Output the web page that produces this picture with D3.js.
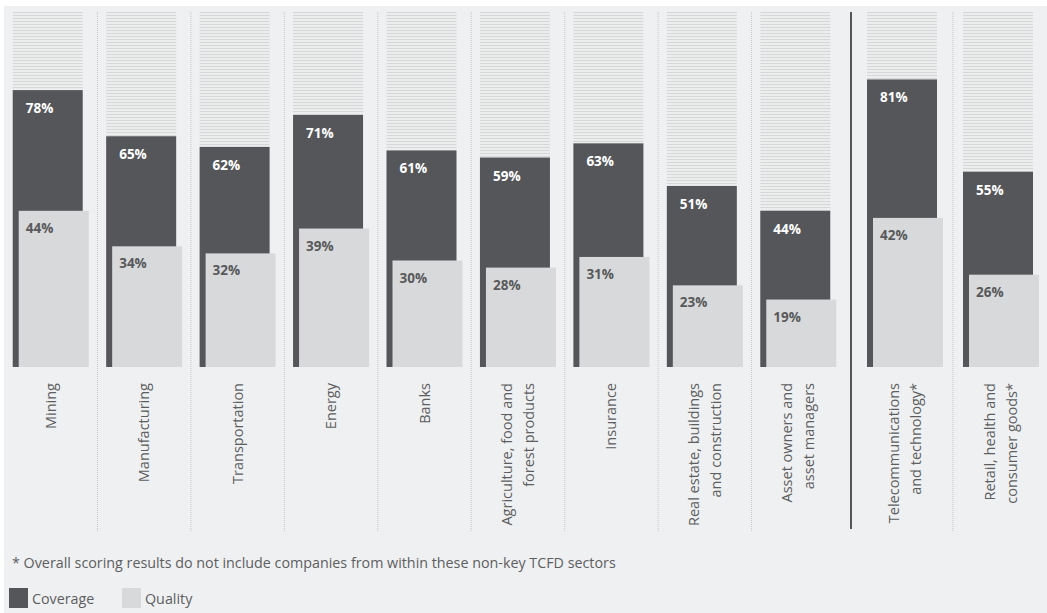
<!DOCTYPE html>
<html>
<head>
<meta charset="utf-8">
<script src="https://cdn.jsdelivr.net/npm/d3@7"></script>
<style>
  html, body { margin: 0; padding: 0; background: #ffffff; }
  svg { display: block; font-family: "Open Sans", "Noto Sans", sans-serif; }
</style>
</head>
<body>
<svg id="chart" width="1047" height="613"></svg>
<script>
// Key TCFD sectors, then the two non-key sectors shown after the divider
const keySectors = [
  "Mining", "Manufacturing", "Transportation", "Energy", "Banks",
  "Agriculture, food and|forest products", "Insurance",
  "Real estate, buildings|and construction", "Asset owners and|asset managers"
];
const nonKeySectors = [
  "Telecommunications|and technology*", "Retail, health and|consumer goods*"
];
const coverage = [78, 65, 62, 71, 61, 59, 63, 51, 44, 81, 55];
const quality  = [44, 34, 32, 39, 30, 28, 31, 23, 19, 42, 26];
const footnote = "* Overall scoring results do not include companies from within these non-key TCFD sectors";
const legendItems = ["Coverage", "Quality"];

const W = 1047, H = 613;
const colors = { coverage: "#55565a", quality: "#d8d9db", bg: "#eff0f2", text: "#58595b" };

const svg = d3.select("#chart");

const defs = svg.append("defs");
const pat = defs.append("pattern")
  .attr("id", "track").attr("patternUnits", "userSpaceOnUse")
  .attr("width", 6).attr("height", 3).attr("y", 12);
pat.append("rect").attr("width", 6).attr("height", 3).attr("fill", "#eceded");
pat.append("rect").attr("width", 6).attr("height", 1).attr("fill", "#d6d7d9");

svg.append("rect").attr("x", 4).attr("y", 6).attr("width", W - 4).attr("height", H - 6).attr("fill", colors.bg);

const y = d3.scaleLinear().domain([0, 100]).range([367, 12]);
const dividerX = 851;
const xKey = d3.scaleBand().domain(keySectors).range([4, 845]);
const xNon = d3.scaleBand().domain(nonKeySectors).range([dividerX + 6, W + 2]);

const barW = 70, qOffset = 6;
const groupW = barW + qOffset;

const rows = keySectors.map((s, i) => ({ name: s, scale: xKey, i, key: true }))
  .concat(nonKeySectors.map((s, j) => ({ name: s, scale: xNon, i: keySectors.length + j, key: false })));
rows.forEach(r => {
  r.colX = r.scale(r.name);
  r.colW = r.scale.bandwidth();
  r.barX = r.colX + (r.colW - groupW) / 2;
  r.cov = coverage[r.i];
  r.q = quality[r.i];
  r.first = r.scale.domain()[0] === r.name;
});

// column separators
svg.append("g").selectAll("line")
  .data(rows.filter(r => !r.first))
  .join("line")
  .attr("x1", r => r.colX).attr("x2", r => r.colX)
  .attr("y1", y(100)).attr("y2", 531)
  .attr("stroke", "#c4c5c7").attr("stroke-width", 1).attr("stroke-dasharray", "1,1");

svg.append("line")
  .attr("x1", dividerX).attr("x2", dividerX)
  .attr("y1", y(100)).attr("y2", 529)
  .attr("stroke", colors.coverage).attr("stroke-width", 2);

const g = svg.append("g").selectAll("g").data(rows).join("g");

// striped 100% track
g.append("rect")
  .attr("x", r => r.barX).attr("width", barW)
  .attr("y", y(100)).attr("height", r => y(r.cov) - y(100))
  .attr("fill", "url(#track)");

g.append("rect")
  .attr("x", r => r.barX).attr("width", barW)
  .attr("y", r => y(r.cov)).attr("height", r => y(0) - y(r.cov))
  .attr("fill", colors.coverage);

g.append("rect")
  .attr("x", r => r.barX + qOffset).attr("width", barW)
  .attr("y", r => y(r.q)).attr("height", r => y(0) - y(r.q))
  .attr("fill", colors.quality);

g.append("text")
  .attr("x", r => r.barX + 13).attr("y", r => y(r.cov) + 23)
  .attr("fill", "#ffffff").attr("font-size", 13.5).attr("font-weight", 700)
  .text(r => r.cov + "%");

g.append("text")
  .attr("x", r => r.barX + 13).attr("y", r => y(r.q) + 22)
  .attr("fill", colors.text).attr("font-size", 13.5).attr("font-weight", 700)
  .text(r => r.q + "%");

// rotated category labels
const lab = g.append("text")
  .attr("transform", r => `translate(${r.colX + r.colW / 2},383) rotate(-90)`)
  .attr("text-anchor", "end")
  .attr("fill", "#5d5e60").attr("font-size", 14.5);
lab.each(function (r) {
  const lines = r.name.split("|");
  const t = d3.select(this);
  const lh = 22;
  lines.forEach((ln, k) => {
    t.append("tspan").attr("x", 0)
      .attr("y", (k - (lines.length - 1) / 2) * lh + 5)
      .text(ln);
  });
});

svg.append("text")
  .attr("x", 12).attr("y", 568)
  .attr("fill", "#5d5e60").attr("font-size", 14.3)
  .text(footnote);

const leg = svg.append("g").selectAll("g").data(legendItems).join("g")
  .attr("transform", (d, i) => `translate(${9 + i * 113},588)`);
leg.append("rect").attr("width", 19).attr("height", 20)
  .attr("fill", (d, i) => i === 0 ? colors.coverage : colors.quality);
leg.append("text").attr("x", 23).attr("y", 16)
  .attr("fill", "#5d5e60").attr("font-size", 14.3)
  .text(d => d);
</script>
</body>
</html>
